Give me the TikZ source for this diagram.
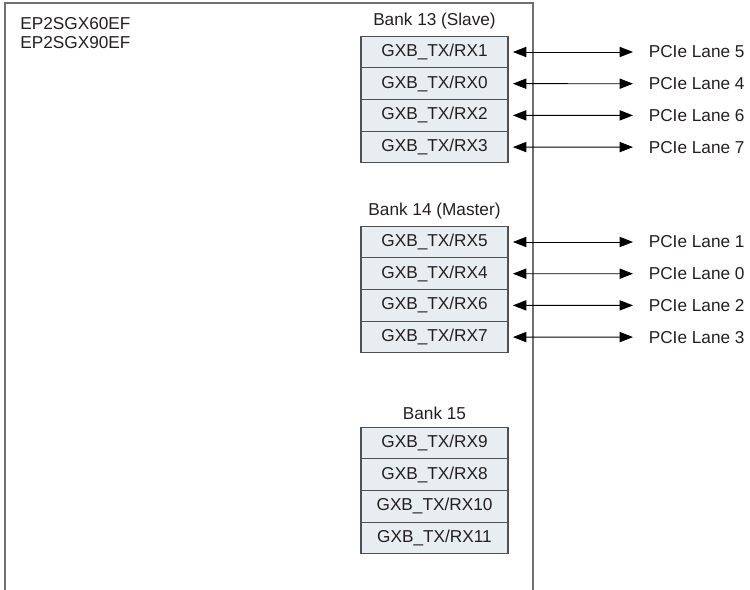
\documentclass[tikz,border=0pt]{standalone}
\usepackage{fontspec}
\setmainfont{Liberation Sans}
\usetikzlibrary{arrows.meta,positioning}

\definecolor{rowfill}{HTML}{E8EDF2}
\definecolor{rowline}{HTML}{505050}
\definecolor{frameline}{HTML}{707070}
\definecolor{inktext}{HTML}{231F20}

\tikzset{
  gxb/.style={draw=rowline, fill=rowfill, line width=0.6pt, minimum width=2.94cm,
    minimum height=0.634cm, inner sep=0pt, outer sep=0pt, text=inktext},
  banklabel/.style={text=inktext},
  lane/.style={anchor=west, inner xsep=9pt, outer sep=0pt, text=inktext},
  biarrow/.style={{Triangle[length=7.6pt,width=5.8pt]}-{Triangle[length=7.6pt,width=5.8pt]},
    line width=0.5pt, draw=black, shorten <=2.8pt}
}

\begin{document}
\begin{tikzpicture}[x=0.02cm, y=-0.02cm, font=\fontsize{9.8}{11.8}\selectfont]
    \useasboundingbox (0,0) rectangle (750,590);

    % Device outline (open at the bottom)
    \draw[frameline, line width=0.7pt] (5,590) -- (5,3) -- (533,3) -- (533,590);
    \node[anchor=north west, align=left, inner sep=0pt, text=inktext, font=\fontsize{9.8}{10.8}\selectfont]
      (dev) at (20,17) {EP2SGX60EF\\EP2SGX90EF};

    % Bank 13
    \node[banklabel] (bank13) at (434.5,21) {Bank 13 (Slave)};
    \node[gxb] (b13a) at (434.5,52) {GXB\_TX/RX1};
    \node[gxb, below=0pt of b13a] (b13b) {GXB\_TX/RX0};
    \node[gxb, below=0pt of b13b] (b13c) {GXB\_TX/RX2};
    \node[gxb, below=0pt of b13c] (b13d) {GXB\_TX/RX3};

    \node[lane] (lane5) at (633,52) {PCIe Lane 5};
    \node[lane] (lane4) at (633,83.7) {PCIe Lane 4};
    \node[lane] (lane6) at (633,115.4) {PCIe Lane 6};
    \node[lane] (lane7) at (633,147.1) {PCIe Lane 7};
    \draw[biarrow] (b13a.east) -- (lane5.west);
    \draw[biarrow] (b13b.east) -- (lane4.west);
    \draw[biarrow] (b13c.east) -- (lane6.west);
    \draw[biarrow] (b13d.east) -- (lane7.west);

    % Bank 14
    \node[banklabel] (bank14) at (434.5,211) {Bank 14 (Master)};
    \node[gxb] (b14a) at (434.5,242) {GXB\_TX/RX5};
    \node[gxb, below=0pt of b14a] (b14b) {GXB\_TX/RX4};
    \node[gxb, below=0pt of b14b] (b14c) {GXB\_TX/RX6};
    \node[gxb, below=0pt of b14c] (b14d) {GXB\_TX/RX7};

    \node[lane] (lane1) at (633,242) {PCIe Lane 1};
    \node[lane] (lane0) at (633,273.7) {PCIe Lane 0};
    \node[lane] (lane2) at (633,305.4) {PCIe Lane 2};
    \node[lane] (lane3) at (633,337.1) {PCIe Lane 3};
    \draw[biarrow] (b14a.east) -- (lane1.west);
    \draw[biarrow] (b14b.east) -- (lane0.west);
    \draw[biarrow] (b14c.east) -- (lane2.west);
    \draw[biarrow] (b14d.east) -- (lane3.west);

    % Bank 15 (unused)
    \node[banklabel] (bank15) at (434.5,413) {Bank 15};
    \node[gxb] (b15a) at (434.5,443) {GXB\_TX/RX9};
    \node[gxb, below=0pt of b15a] (b15b) {GXB\_TX/RX8};
    \node[gxb, below=0pt of b15b] (b15c) {GXB\_TX/RX10};
    \node[gxb, below=0pt of b15c] (b15d) {GXB\_TX/RX11};
  \end{tikzpicture}
\end{document}
